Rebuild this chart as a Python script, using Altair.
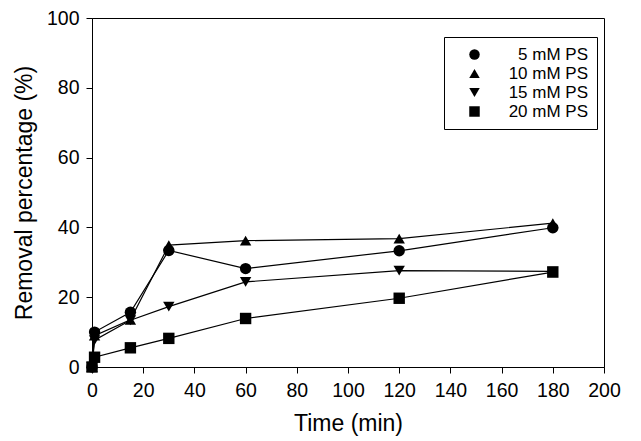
import altair as alt
import pandas as pd

time_min = [0, 1, 15, 30, 60, 120, 180]
series_names = ["5 mM PS", "10 mM PS", "15 mM PS", "20 mM PS"]
ps_5 = [0, 10.0, 15.7, 33.4, 28.2, 33.3, 39.9]
ps_10 = [0, 9.0, 13.5, 34.9, 36.2, 36.8, 41.2]
ps_15 = [0, 7.7, 13.4, 17.3, 24.4, 27.6, 27.4]
ps_20 = [0, 2.8, 5.5, 8.2, 13.9, 19.7, 27.2]
shapes = ["circle", "triangle-up", "triangle-down", "square"]

rows = []
for name, vals in zip(series_names, [ps_5, ps_10, ps_15, ps_20]):
    for t, v in zip(time_min, vals):
        rows.append({"Time": t, "Removal": v, "Series": name})
df = pd.DataFrame(rows)

FONT = "Liberation Sans"

x = alt.X("Time:Q", title="Time (min)",
          scale=alt.Scale(domain=[0, 200], nice=False),
          axis=alt.Axis(values=list(range(0, 201, 20)), grid=False, labelFlush=False,
                        labelPadding=8, titlePadding=13))
y = alt.Y("Removal:Q", title="Removal percentage (%)",
          scale=alt.Scale(domain=[0, 100], nice=False),
          axis=alt.Axis(values=list(range(0, 101, 20)), grid=False, labelFlush=False,
                        labelPadding=7, titlePadding=10))

lines = alt.Chart(df).mark_line(color="black", strokeWidth=1.2, clip=False).encode(
    x=x, y=y, detail="Series:N")

points = alt.Chart(df).mark_point(filled=True, color="black", size=130, opacity=1).encode(
    x=x, y=y,
    shape=alt.Shape("Series:N", sort=series_names,
                    scale=alt.Scale(domain=series_names, range=shapes),
                    legend=alt.Legend(title=None, orient="none", legendX=352, legendY=19,
                                      strokeColor="black", padding=9,
                                      labelAlign="right", labelOffset=105,
                                      symbolSize=110, symbolFillColor="black",
                                      symbolStrokeColor="black",
                                      labelFontSize=17, labelFont=FONT,
                                      rowPadding=1, symbolOffset=13)))

chart = alt.layer(lines, points).properties(
    width=512, height=349,
    autosize="none",
    padding={"left": 84, "top": 10, "right": 21, "bottom": 80},
).configure_view(stroke="black", strokeWidth=1).configure_axis(
    domainColor="black", tickColor="black", labelColor="black", titleColor="black",
    labelFont=FONT, titleFont=FONT, labelFontSize=19.5, titleFontSize=23,
    titleFontWeight="normal", tickSize=6,
)

chart.save("out.html", embed_options={"renderer": "svg", "actions": False})
